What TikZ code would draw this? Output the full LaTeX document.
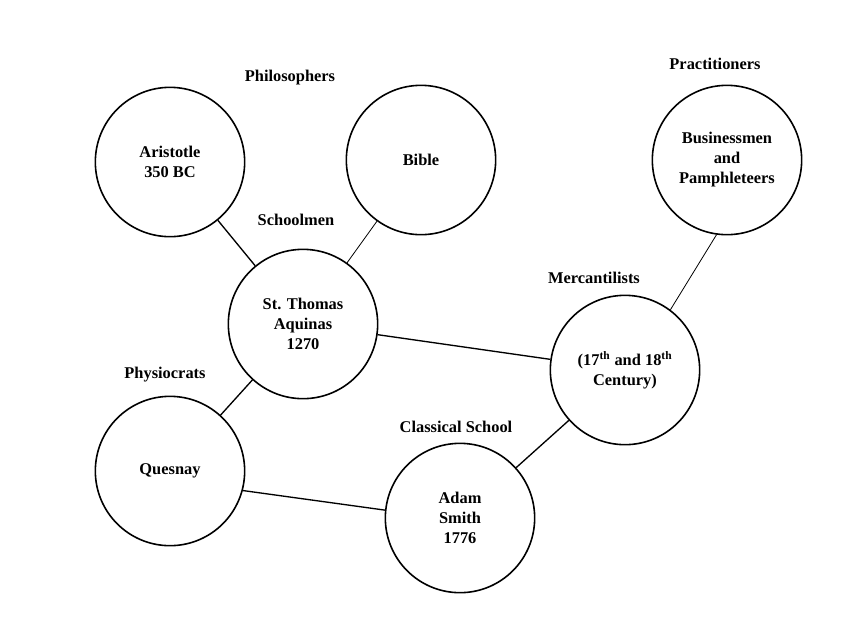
\documentclass[tikz,border=0pt]{standalone}
\usepackage{fontspec}
\setmainfont{Liberation Serif}
\usetikzlibrary{positioning}

\begin{document}
\begin{tikzpicture}[
  x=0.75pt, y=-0.75pt,
  school/.style={circle, draw, line width=1.2pt, minimum size=112pt, inner sep=0pt,
    font=\bfseries\fontsize{12.3}{15}\selectfont, align=center},
  grp/.style={font=\bfseries\fontsize{12.3}{15}\selectfont},
  link/.style={line width=1pt}
]
  \useasboundingbox (0,0) rectangle (850,637);

  % Philosophers
  \node[school] (aristotle) at (170,162) {Aristotle\\350 BC};
  \node[school] (bible) at (421,160) {Bible};
  \node[grp] (philo) at (290,78) {Philosophers};

  % Schoolmen
  \node[school] (aquinas) at (303,324) {St. Thomas\\Aquinas\\1270};
  \node[grp] (schoolmen) at (296,220) {Schoolmen};

  % Practitioners
  \node[school] (business) at (727,160) {Businessmen\\and\\Pamphleteers};
  \node[grp] (pract) at (715,64) {Practitioners};

  % Mercantilists
  \node[school] (merc) at (625,370) {(17\textsuperscript{th} and 18\textsuperscript{th}\\Century)};
  \node[grp] (mercl) at (594,278) {Mercantilists};

  % Physiocrats
  \node[school] (quesnay) at (170,471) {Quesnay};
  \node[grp] (physio) at (165,375) {Physiocrats};

  % Classical School
  \node[school] (smith) at (460,518) {Adam\\Smith\\1776};
  \node[grp] (classical) at (456,427) {Classical School};

  \draw[link] (aristotle) -- (aquinas);
  \draw[link, line width=0.6pt] (bible) -- (aquinas);
  \draw[link] (aquinas) -- (merc);
  \draw[link, line width=0.6pt] (business.-98) -- (merc.53);
  \draw[link] (aquinas) -- (quesnay);
  \draw[link] (quesnay.-15) -- (smith.174);
  \draw[link] (smith) -- (merc);
\end{tikzpicture}
\end{document}
